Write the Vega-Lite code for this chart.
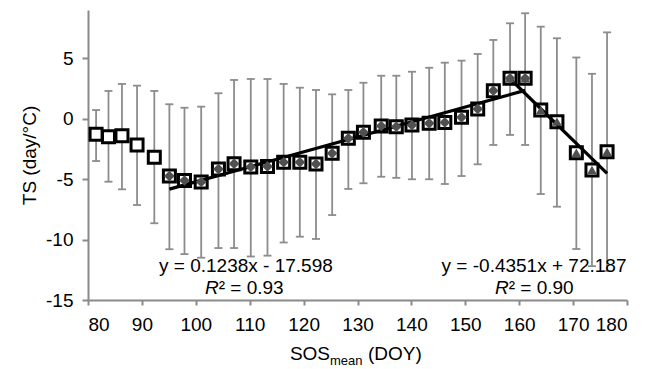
{
  "$schema": "https://vega.github.io/schema/vega-lite/v6.json",
  "width": 539,
  "height": 290,
  "autosize": {"type": "none"},
  "padding": {"left": 88, "right": 26, "top": 10, "bottom": 69},
  "background": "white",
  "config": {
    "view": {"stroke": null},
    "font": "Liberation Sans",
    "axis": {
      "grid": false,
      "domainColor": "#8a8a8a",
      "domainWidth": 2,
      "tickColor": "#8a8a8a",
      "tickWidth": 2,
      "labelColor": "#000000",
      "labelFont": "Liberation Sans",
      "labelFontSize": 19,
      "titleFont": "Liberation Sans",
      "titleFontSize": 19,
      "titleFontWeight": "normal",
      "titleColor": "#000000"
    }
  },
  "datasets": {
    "pts": [
      {"sos": 81.5, "ts": -1.29, "lo": -3.50, "hi": 0.72, "seg1": false, "seg2": false},
      {"sos": 83.8, "ts": -1.49, "lo": -5.21, "hi": 2.30, "seg1": false, "seg2": false},
      {"sos": 86.3, "ts": -1.40, "lo": -5.84, "hi": 2.88, "seg1": false, "seg2": false},
      {"sos": 89.1, "ts": -2.17, "lo": -7.14, "hi": 2.74, "seg1": false, "seg2": false},
      {"sos": 92.3, "ts": -3.19, "lo": -8.65, "hi": 2.30, "seg1": false, "seg2": false},
      {"sos": 95.1, "ts": -4.74, "lo": -10.80, "hi": 1.20, "seg1": true, "seg2": false},
      {"sos": 97.9, "ts": -5.11, "lo": -11.20, "hi": 0.91, "seg1": true, "seg2": false},
      {"sos": 101.0, "ts": -5.23, "lo": -11.50, "hi": 1.00, "seg1": true, "seg2": false},
      {"sos": 104.2, "ts": -4.16, "lo": -10.70, "hi": 2.11, "seg1": true, "seg2": false},
      {"sos": 107.1, "ts": -3.72, "lo": -10.70, "hi": 3.21, "seg1": true, "seg2": false},
      {"sos": 110.2, "ts": -3.99, "lo": -11.40, "hi": 3.29, "seg1": true, "seg2": false},
      {"sos": 113.3, "ts": -3.95, "lo": -11.33, "hi": 3.29, "seg1": true, "seg2": false},
      {"sos": 116.3, "ts": -3.60, "lo": -10.24, "hi": 2.88, "seg1": true, "seg2": false},
      {"sos": 119.3, "ts": -3.60, "lo": -9.76, "hi": 2.57, "seg1": true, "seg2": false},
      {"sos": 122.3, "ts": -3.74, "lo": -9.95, "hi": 2.38, "seg1": true, "seg2": false},
      {"sos": 125.3, "ts": -2.86, "lo": -7.97, "hi": 2.02, "seg1": true, "seg2": false},
      {"sos": 128.3, "ts": -1.62, "lo": -5.81, "hi": 2.38, "seg1": true, "seg2": false},
      {"sos": 131.1, "ts": -1.12, "lo": -5.34, "hi": 2.98, "seg1": true, "seg2": false},
      {"sos": 134.4, "ts": -0.60, "lo": -4.80, "hi": 3.56, "seg1": true, "seg2": false},
      {"sos": 137.2, "ts": -0.66, "lo": -4.89, "hi": 3.56, "seg1": true, "seg2": false},
      {"sos": 140.1, "ts": -0.52, "lo": -5.01, "hi": 3.89, "seg1": true, "seg2": false},
      {"sos": 143.3, "ts": -0.38, "lo": -5.01, "hi": 4.22, "seg1": true, "seg2": false},
      {"sos": 146.2, "ts": -0.30, "lo": -5.40, "hi": 4.64, "seg1": true, "seg2": false},
      {"sos": 149.3, "ts": 0.12, "lo": -4.74, "hi": 4.81, "seg1": true, "seg2": false},
      {"sos": 152.3, "ts": 0.81, "lo": -3.77, "hi": 5.36, "seg1": true, "seg2": false},
      {"sos": 155.2, "ts": 2.32, "lo": -2.17, "hi": 6.52, "seg1": true, "seg2": false},
      {"sos": 158.3, "ts": 3.35, "lo": -1.34, "hi": 7.90, "seg1": true, "seg2": true},
      {"sos": 161.1, "ts": 3.35, "lo": -2.17, "hi": 8.73, "seg1": true, "seg2": true},
      {"sos": 164.0, "ts": 0.72, "lo": -6.23, "hi": 7.62, "seg1": false, "seg2": true},
      {"sos": 167.0, "ts": -0.24, "lo": -7.28, "hi": 6.66, "seg1": false, "seg2": true},
      {"sos": 170.6, "ts": -2.81, "lo": -10.78, "hi": 5.07, "seg1": false, "seg2": true},
      {"sos": 173.5, "ts": -4.24, "lo": -12.20, "hi": 3.72, "seg1": false, "seg2": true},
      {"sos": 176.3, "ts": -2.73, "lo": -12.60, "hi": 7.15, "seg1": false, "seg2": true}
    ],
    "fits": [
      {"seg": "a", "sos": 95.1, "ts": -5.825},
      {"seg": "a", "sos": 161.1, "ts": 2.347},
      {"seg": "b", "sos": 158.3, "ts": 3.31},
      {"seg": "b", "sos": 176.3, "ts": -4.52}
    ],
    "eq": [
      {"sos": 109.3, "ts": -12.7, "label": "y = 0.1238x - 17.598"},
      {"sos": 162.75, "ts": -12.7, "label": "y = -0.4351x + 72.187"}
    ],
    "r2": [
      {"sos": 104.25, "ts": -14.5, "r": "R", "rest": "² = 0.93"},
      {"sos": 158.05, "ts": -14.5, "r": "R", "rest": "² = 0.90"}
    ],
    "xt": [
      {"sos": 124.9, "ts": -20.0, "main": "SOS", "sub": "mean"},
      {"sos": 131.95, "ts": -20.0, "main": "(DOY)", "sub": ""}
    ]
  },
  "encoding": {
    "x": {"field": "sos", "type": "quantitative",
      "scale": {"domain": [80, 180], "nice": false, "zero": false},
      "axis": {"values": [80, 90, 100, 110, 120, 130, 140, 150, 160, 170, 180], "title": null, "tickSize": 5, "labelPadding": 10}},
    "y": {"field": "ts", "type": "quantitative",
      "scale": {"domain": [-15, 9], "nice": false, "zero": false},
      "axis": {"values": [-15, -10, -5, 0, 5], "title": "TS (day/°C)", "tickSize": 6, "labelPadding": 9, "titlePadding": 6,
        "labelExpr": "replace(datum.label, '\u2212', '-')"}}
  },
  "layer": [
    {"data": {"name": "pts"},
     "mark": {"type": "rule", "color": "#8c8c8c", "strokeWidth": 1.8},
     "encoding": {"y": {"field": "lo", "type": "quantitative"}, "y2": {"field": "hi"}}},
    {"data": {"name": "pts"},
     "mark": {"type": "tick", "orient": "horizontal", "color": "#8c8c8c", "size": 8, "thickness": 1.8, "opacity": 1},
     "encoding": {"y": {"field": "hi", "type": "quantitative"}}},
    {"data": {"name": "pts"},
     "mark": {"type": "tick", "orient": "horizontal", "color": "#8c8c8c", "size": 8, "thickness": 1.8, "opacity": 1},
     "encoding": {"y": {"field": "lo", "type": "quantitative"}}},
    {"data": {"name": "pts"},
     "mark": {"type": "point", "shape": "square", "size": 144, "fill": "white", "stroke": "black", "strokeWidth": 3, "opacity": 1, "filled": false},
     "encoding": {}},
    {"data": {"name": "fits"},
     "mark": {"type": "line", "color": "black", "strokeWidth": 3.2},
     "encoding": {"detail": {"field": "seg"}}},
    {"data": {"name": "pts"},
     "transform": [{"filter": "datum.seg1"}],
     "mark": {"type": "point", "shape": "diamond", "size": 115, "filled": true, "color": "#505050", "opacity": 1},
     "encoding": {}},
    {"data": {"name": "pts"},
     "transform": [{"filter": "datum.seg2"}],
     "mark": {"type": "point", "shape": "triangle-up", "size": 95, "filled": true, "color": "#505050", "opacity": 1},
     "encoding": {}},
    {"data": {"name": "eq"},
     "mark": {"type": "text", "font": "Liberation Sans", "fontSize": 19, "align": "center", "baseline": "alphabetic", "color": "black"},
     "encoding": {"text": {"field": "label"}}},
    {"data": {"name": "r2"},
     "mark": {"type": "text", "font": "Liberation Sans", "fontSize": 19, "fontStyle": "italic", "align": "right", "baseline": "alphabetic", "color": "black"},
     "encoding": {"text": {"field": "r"}}},
    {"data": {"name": "r2"},
     "mark": {"type": "text", "font": "Liberation Sans", "fontSize": 19, "align": "left", "baseline": "alphabetic", "color": "black"},
     "encoding": {"text": {"field": "rest"}}},
    {"data": {"name": "xt"},
     "transform": [{"filter": "datum.sub != ''"}],
     "mark": {"type": "text", "font": "Liberation Sans", "fontSize": 19, "align": "right", "baseline": "alphabetic", "color": "black"},
     "encoding": {"text": {"field": "main"}}},
    {"data": {"name": "xt"},
     "transform": [{"filter": "datum.sub != ''"}],
     "mark": {"type": "text", "font": "Liberation Sans", "fontSize": 13, "align": "left", "baseline": "alphabetic", "dy": 5, "color": "black"},
     "encoding": {"text": {"field": "sub"}}},
    {"data": {"name": "xt"},
     "transform": [{"filter": "datum.sub == ''"}],
     "mark": {"type": "text", "font": "Liberation Sans", "fontSize": 19, "align": "left", "baseline": "alphabetic", "color": "black"},
     "encoding": {"text": {"field": "main"}}}
  ]
}
